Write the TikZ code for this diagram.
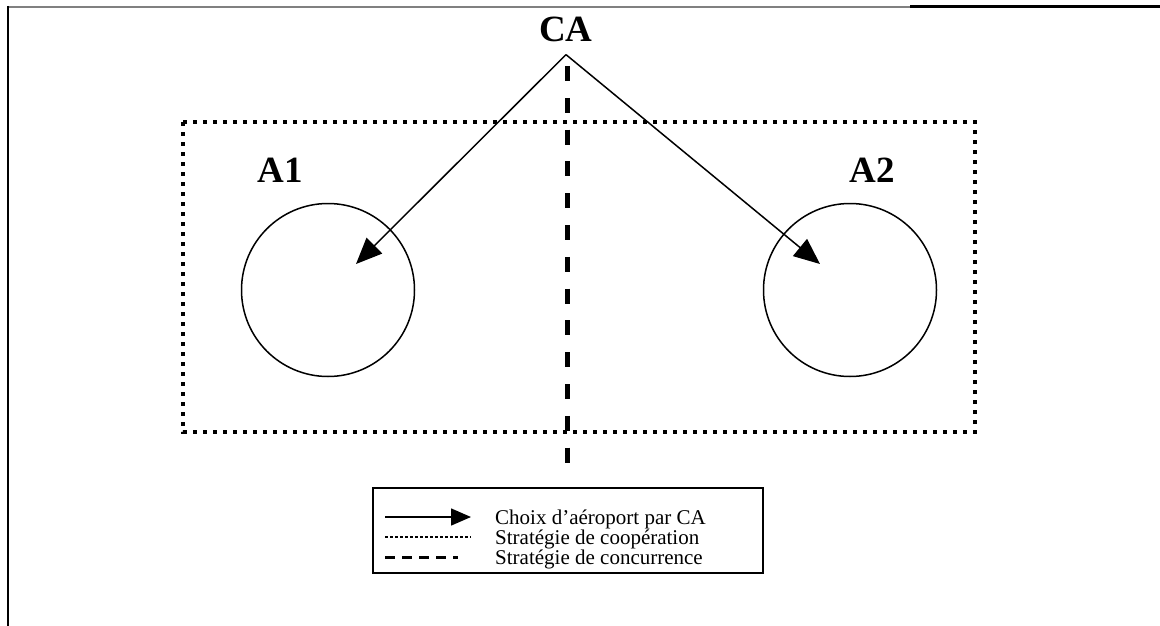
\documentclass[tikz,border=0pt]{standalone}
\usepackage{fontspec}
\setmainfont{Liberation Serif}
\usetikzlibrary{arrows.meta, positioning}
\tikzset{
    x=1pt, y=-1pt, % one unit per pixel, y running down
    tagtext/.style={font=\fontsize{37}{37}\selectfont\bfseries, inner sep=0pt}, % CA, A1, A2
    airport/.style={draw, circle, line width=1.5pt, minimum size=173pt, inner sep=0pt},
    choicearrow/.style={line width=1.5pt, -{Triangle[length=26pt, width=22pt]}},
    coop/.style={line width=4pt, dash pattern=on 4pt off 6pt}, % dotted box
    conc/.style={line width=5pt, dash pattern=on 15pt off 16.8pt}, % dashed split
    legendtext/.style={font=\fontsize{21}{21}\selectfont, anchor=base west, inner sep=0pt},
}

\begin{document}
\begin{tikzpicture}
    \useasboundingbox (0,0) rectangle (1160,626);

    % frame
    \draw[gray, line width=1.5pt] (7,7) -- (910,7);
    \draw[line width=3pt] (910,7) -- (1160,7);
    \draw[line width=2.5pt] (8,6) -- (8,626);

    % carrier and the two airports
    \node[tagtext] (ca) at (566,29) {CA};
    \node[tagtext] (a1) at (280,170) {A1};
    \node[tagtext] (a2) at (872,170) {A2};
    \node[airport] (c1) at (328,290) {};
    \node[airport] (c2) at (850,290) {};
    \coordinate (t1) at (356,264);
    \coordinate (t2) at (820,264);

    % strategies
    \draw[coop] (183,122) rectangle (975,432);
    \coordinate (split top) at (567,66);
    \coordinate (split bot) at (567,463);
    \draw[conc] (split top) -- (split bot);

    \draw[choicearrow] ([yshift=-13pt]ca.south) -- (t1);
    \draw[choicearrow] ([yshift=-13pt]ca.south) -- (t2);

    % legend
    \draw[line width=2pt] (373,488) rectangle (763,573);
    \coordinate (k1a) at (385,517); \coordinate (k1b) at (471,517);
    \coordinate (k2a) at (385,537); \coordinate (k2b) at (471,537);
    \coordinate (k3a) at (385,557); \coordinate (k3b) at (458,557);
    \draw[line width=1.5pt, -{Triangle[length=20pt, width=17pt]}] (k1a) -- (k1b);
    \draw[line width=2.5pt, dash pattern=on 2.5pt off 2.5pt] (k2a) -- (k2b);
    \draw[line width=3pt, dash pattern=on 10pt off 7pt] (k3a) -- (k3b);
    \node[legendtext] (key1) at (495,524) {Choix d’aéroport par CA};
    \node[legendtext] (key2) at (495,544) {Stratégie de coopération};
    \node[legendtext] (key3) at (495,564) {Stratégie de concurrence};
\end{tikzpicture}
\end{document}
